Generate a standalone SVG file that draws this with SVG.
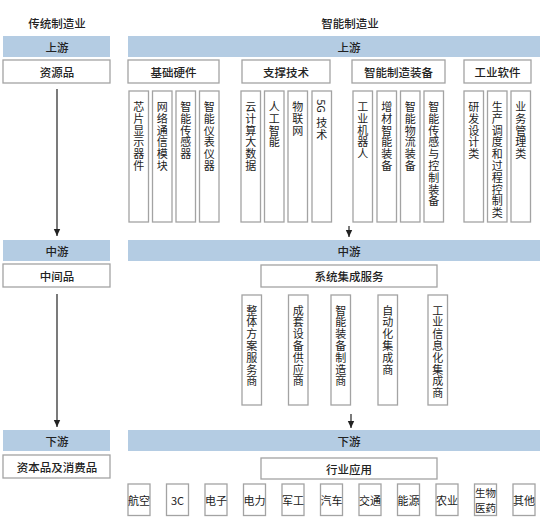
<svg xmlns="http://www.w3.org/2000/svg" width="546" height="521" viewBox="0 0 546 521">
<defs>
<style>
text{font-family:"Noto Sans CJK SC","Liberation Sans",sans-serif;fill:#222;}
.h{font-size:11.5px;font-weight:500;text-anchor:middle;dominant-baseline:central;}
.band{fill:#b4cce3;}
.box{fill:#fff;stroke:#a3a3a3;stroke-width:1.3;}
.v{font-size:11px;text-anchor:middle;dominant-baseline:central;}
.s{font-size:11px;text-anchor:middle;dominant-baseline:central;}
.s2{font-size:10.5px;text-anchor:middle;dominant-baseline:central;}
.ln{stroke:#333;stroke-width:1.3;fill:none;marker-end:url(#ah);}
</style>
<marker id="ah" markerWidth="8" markerHeight="8" refX="7" refY="4" orient="auto" markerUnits="userSpaceOnUse">
<path d="M0,0.8 L7,4 L0,7.2 Z" fill="#222"/>
</marker>
</defs>
<rect width="546" height="521" fill="#fff"/>

<text class="h" x="57" y="23">传统制造业</text>
<text class="h" x="350" y="23">智能制造业</text>

<g id="bands">
<rect class="band" x="3" y="36" width="107" height="21"/>
<text class="h" x="57" y="46.5">上游</text>
<rect class="band" x="128" y="36" width="412" height="21"/>
<text class="h" x="349" y="46.5">上游</text>
<rect class="band" x="3" y="240" width="107" height="21"/>
<text class="h" x="57" y="250.5">中游</text>
<rect class="band" x="128" y="240" width="412" height="21"/>
<text class="h" x="349" y="250.5">中游</text>
<rect class="band" x="3" y="430" width="107" height="21"/>
<text class="h" x="57" y="440.5">下游</text>
<rect class="band" x="128" y="430" width="412" height="21"/>
<text class="h" x="349" y="440.5">下游</text>
</g>

<g id="left-nodes">
<g id="n-ziyuanpin"><rect class="box" x="3" y="60" width="107" height="23"/><text class="h" x="57" y="71.5">资源品</text></g>
<g id="n-zhongjianpin"><rect class="box" x="3" y="264" width="107" height="23"/><text class="h" x="57" y="275.5">中间品</text></g>
<g id="n-ziben"><rect class="box" x="3" y="455" width="107" height="23"/><text class="h" x="57" y="466.5">资本品及消费品</text></g>
</g>

<g id="up-headers">
<g id="n-jichu"><rect class="box" x="128" y="60" width="91" height="23"/><text class="h" x="173.5" y="71.5">基础硬件</text></g>
<g id="n-zhicheng"><rect class="box" x="242" y="60" width="88" height="23"/><text class="h" x="286" y="71.5">支撑技术</text></g>
<g id="n-zhuangbei"><rect class="box" x="352" y="60" width="93" height="23"/><text class="h" x="398.5" y="71.5">智能制造装备</text></g>
<g id="n-ruanjian"><rect class="box" x="464" y="60" width="67" height="23"/><text class="h" x="497.5" y="71.5">工业软件</text></g>
</g>

<g id="up-items">
<g id="u1"><rect class="box" x="129" y="91" width="19.5" height="131"/><text class="v" x="138.75 138.75 138.75 138.75 138.75 138.75" y="106 117.8 129.6 141.4 153.2 165">芯片显示器件</text></g>
<g id="u2"><rect class="box" x="152.5" y="91" width="19.5" height="131"/><text class="v" x="162.25 162.25 162.25 162.25 162.25 162.25" y="106 117.8 129.6 141.4 153.2 165">网络通信模块</text></g>
<g id="u3"><rect class="box" x="176" y="91" width="19.5" height="131"/><text class="v" x="185.75 185.75 185.75 185.75 185.75" y="106 117.8 129.6 141.4 153.2">智能传感器</text></g>
<g id="u4"><rect class="box" x="199.5" y="91" width="19.5" height="131"/><text class="v" x="209.25 209.25 209.25 209.25 209.25 209.25" y="106 117.8 129.6 141.4 153.2 165">智能仪表仪器</text></g>
<g id="u5"><rect class="box" x="241" y="91" width="19.5" height="131"/><text class="v" x="250.75 250.75 250.75 250.75 250.75 250.75" y="106 117.8 129.6 141.4 153.2 165">云计算大数据</text></g>
<g id="u6"><rect class="box" x="264.5" y="91" width="19.5" height="131"/><text class="v" x="274.25 274.25 274.25 274.25" y="106 117.8 129.6 141.4">人工智能</text></g>
<g id="u7"><rect class="box" x="288" y="91" width="19.5" height="131"/><text class="v" x="297.75 297.75 297.75" y="106 117.8 129.6">物联网</text></g>
<g id="u8"><rect class="box" x="312" y="91" width="19.5" height="131"/><text class="v" x="321.75" y="106" transform="rotate(90 321.75 106)">5G</text><text class="v" x="321.75 321.75" y="122 133.8">技术</text></g>
<g id="u9"><rect class="box" x="353" y="91" width="19.5" height="131"/><text class="v" x="362.75 362.75 362.75 362.75 362.75" y="106 117.8 129.6 141.4 153.2">工业机器人</text></g>
<g id="u10"><rect class="box" x="377" y="91" width="19.5" height="131"/><text class="v" x="386.75 386.75 386.75 386.75 386.75 386.75" y="106 117.8 129.6 141.4 153.2 165">增材智能装备</text></g>
<g id="u11"><rect class="box" x="400.5" y="91" width="19.5" height="131"/><text class="v" x="410.25 410.25 410.25 410.25 410.25 410.25" y="106 117.8 129.6 141.4 153.2 165">智能物流装备</text></g>
<g id="u12"><rect class="box" x="424" y="91" width="19.5" height="131"/><text class="v" x="433.75 433.75 433.75 433.75 433.75 433.75 433.75 433.75 433.75" y="106 117.8 129.6 141.4 153.2 165 176.8 188.6 200.4">智能传感与控制装备</text></g>
<g id="u13"><rect class="box" x="464" y="91" width="19.5" height="131"/><text class="v" x="473.75 473.75 473.75 473.75 473.75" y="106 117.8 129.6 141.4 153.2">研发设计类</text></g>
<g id="u14"><rect class="box" x="487.5" y="91" width="19.5" height="131"/><text class="v" x="497.25 497.25 497.25 497.25 497.25 497.25 497.25 497.25 497.25 497.25" y="106 117.8 129.6 141.4 153.2 165 176.8 188.6 200.4 212.2">生产调度和过程控制类</text></g>
<g id="u15"><rect class="box" x="511" y="91" width="19.5" height="131"/><text class="v" x="520.75 520.75 520.75 520.75 520.75" y="106 117.8 129.6 141.4 153.2">业务管理类</text></g>
</g>

<g id="mid-nodes">
<g id="n-xitong"><rect class="box" x="261" y="265" width="176" height="22"/><text class="h" x="349" y="276">系统集成服务</text></g>
<g id="m1"><rect class="box" x="242" y="295" width="19.5" height="110"/><text class="v" x="251.75 251.75 251.75 251.75 251.75 251.75 251.75" y="309.5 321.3 333.1 344.9 356.7 368.5 380.3">整体方案服务商</text></g>
<g id="m2"><rect class="box" x="288.5" y="295" width="19.5" height="110"/><text class="v" x="298.25 298.25 298.25 298.25 298.25 298.25 298.25" y="309.5 321.3 333.1 344.9 356.7 368.5 380.3">成套设备供应商</text></g>
<g id="m3"><rect class="box" x="331" y="295" width="19.5" height="110"/><text class="v" x="340.75 340.75 340.75 340.75 340.75 340.75 340.75" y="309.5 321.3 333.1 344.9 356.7 368.5 380.3">智能装备制造商</text></g>
<g id="m4"><rect class="box" x="378" y="295" width="19.5" height="110"/><text class="v" x="387.75 387.75 387.75 387.75 387.75 387.75" y="309.5 321.3 333.1 344.9 356.7 368.5">自动化集成商</text></g>
<g id="m5"><rect class="box" x="428" y="295" width="19.5" height="110"/><text class="v" x="437.75 437.75 437.75 437.75 437.75 437.75 437.75 437.75" y="309.5 321.3 333.1 344.9 356.7 368.5 380.3 392.1">工业信息化集成商</text></g>
</g>

<g id="down-nodes">
<g id="n-hangye"><rect class="box" x="261" y="458" width="176" height="21"/><text class="h" x="349" y="468.5">行业应用</text></g>
<g id="d1"><rect class="box" x="128" y="484" width="22" height="31.5"/><text class="s" x="139" y="499.75">航空</text></g>
<g id="d2"><rect class="box" x="166.5" y="484" width="22" height="31.5"/><text class="s" x="177.5" y="499.75">3C</text></g>
<g id="d3"><rect class="box" x="205" y="484" width="22" height="31.5"/><text class="s" x="216" y="499.75">电子</text></g>
<g id="d4"><rect class="box" x="243.5" y="484" width="22" height="31.5"/><text class="s" x="254.5" y="499.75">电力</text></g>
<g id="d5"><rect class="box" x="282" y="484" width="22" height="31.5"/><text class="s" x="293" y="499.75">军工</text></g>
<g id="d6"><rect class="box" x="320.5" y="484" width="22" height="31.5"/><text class="s" x="331.5" y="499.75">汽车</text></g>
<g id="d7"><rect class="box" x="359" y="484" width="22" height="31.5"/><text class="s" x="370" y="499.75">交通</text></g>
<g id="d8"><rect class="box" x="397.5" y="484" width="22" height="31.5"/><text class="s" x="408.5" y="499.75">能源</text></g>
<g id="d9"><rect class="box" x="436" y="484" width="22" height="31.5"/><text class="s" x="447" y="499.75">农业</text></g>
<g id="d10"><rect class="box" x="474.5" y="484" width="22" height="31.5"/><text class="s2" x="485.5" y="492.5">生物</text><text class="s2" x="485.5" y="507">医药</text></g>
<g id="d11"><rect class="box" x="513" y="484" width="22" height="31.5"/><text class="s" x="524" y="499.75">其他</text></g>
</g>

<g id="connectors">
<line class="ln" x1="57" y1="89" x2="57" y2="236"/>
<line class="ln" x1="57" y1="294" x2="57" y2="427"/>
<line class="ln" x1="349" y1="226" x2="349" y2="237"/>
<line class="ln" x1="351" y1="414" x2="351" y2="428"/>
</g>
</svg>
